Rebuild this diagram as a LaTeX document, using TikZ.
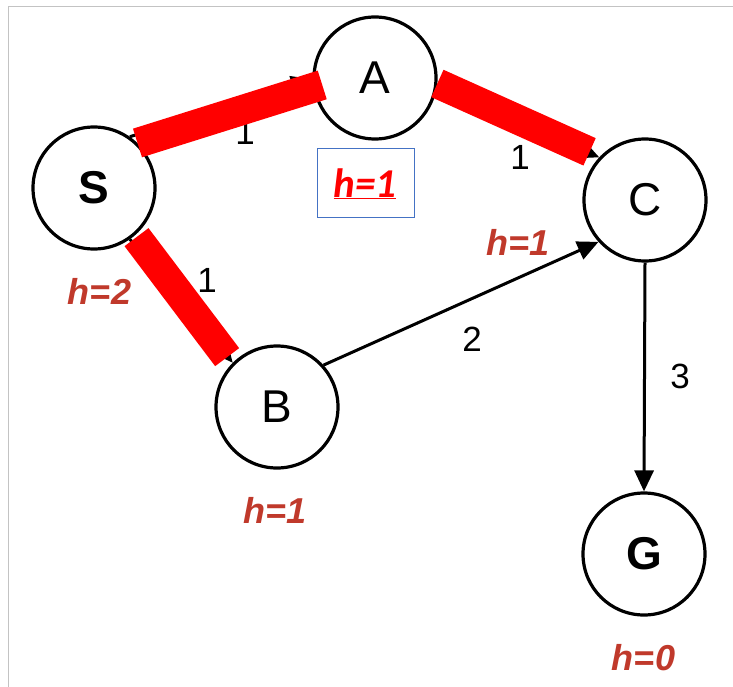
\documentclass[tikz,border=0pt]{standalone}
\usepackage{fontspec}
\setmainfont{Liberation Sans}
\newfontfamily\boxfont{Carlito}
\usetikzlibrary{arrows.meta}
\definecolor{hred}{RGB}{192,57,43}
\definecolor{barred}{RGB}{255,0,0}
\definecolor{boxblue}{RGB}{68,114,196}
\definecolor{framegray}{RGB}{195,195,195}
\tikzset{
  state/.style={circle, draw=black, line width=3.2pt, fill=white, minimum size=122pt, inner sep=0pt, font=\fontsize{46}{50}\selectfont},
  edge/.style={line width=3pt, -{Triangle[length=21pt,width=19pt]}},
  redbar/.style={barred, line width=30pt, line cap=butt},
  wlabel/.style={anchor=base, font=\fontsize{35}{40}\selectfont, inner sep=0pt},
  hlabel/.style={anchor=base, text=hred, font=\fontsize{36}{40}\selectfont\bfseries\itshape, inner sep=0pt},
}
\begin{document}
\begin{tikzpicture}[x=1pt, y=-1pt]
\useasboundingbox (0,0) rectangle (733,687);
\fill[white] (0,0) rectangle (733,687);
\draw[framegray, line width=1pt] (8.5,687) -- (8.5,6.5) -- (733,6.5);

\node[state] (S) at (94,188) {\textbf{S}};
\node[state] (A) at (375,78) {A};
\node[state] (C) at (645,200) {C};
\node[state] (B) at (277,407) {B};
\node[state] (G) at (644,554) {\textbf{G}};

\draw[edge] (S.55) -- (A.181);
\draw[edge] (A.350) -- (C.137);
\draw[edge] (S.305) -- (B.135);
\draw[edge] (B.42) -- (C.222);
\draw[edge] (C.south) -- (G.north);

\node[wlabel] (wSA) at (245,145) {1};
\node[wlabel] (wAC) at (520,170) {1};
\node[wlabel] (wSB) at (207,292) {1};
\node[wlabel] (wBC) at (472,351) {2};
\node[wlabel] (wCG) at (680,388) {3};

\draw[redbar, shorten >=-9.5pt] (S.46) -- (A.189);
\draw[redbar, shorten >=11.4pt] (A.355) -- (C.136);
\draw[redbar, shorten <=2.4pt, shorten >=8pt] (S.311) -- (B.136);

\node[hlabel] (hS) at (99.5,304) {h=2};
\node[hlabel] (hC) at (518,255) {h=1};
\node[hlabel] (hB) at (275,523) {h=1};
\node[hlabel] (hG) at (643.5,670) {h=0};

\node[draw=boxblue, line width=1pt, minimum width=97pt, minimum height=68pt, inner sep=0pt] (hbox) at (365.5,183) {};
\node[anchor=base, inner sep=0pt, text=barred, font=\boxfont\fontsize{41}{44}\selectfont\bfseries\itshape] (hA) at (365,197) {\underline{h=1}};
\end{tikzpicture}
\end{document}
